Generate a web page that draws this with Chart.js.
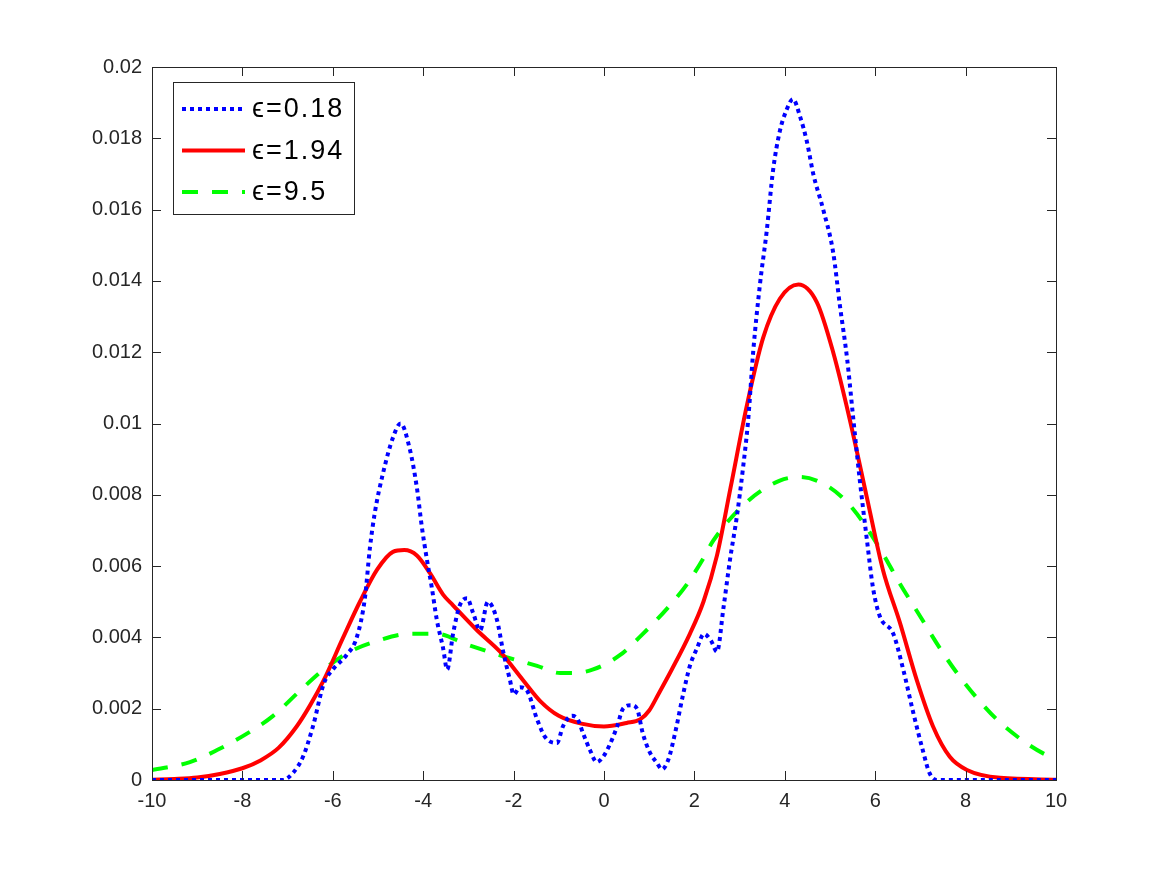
<!DOCTYPE html>
<html>
<head>
<meta charset="utf-8">
<script src="https://cdn.jsdelivr.net/npm/chart.js@4"></script>
<style>
  html, body { margin: 0; padding: 0; background: #fff; }
  #wrap { width: 1167px; height: 875px; }
</style>
</head>
<body>
<div id="wrap"><canvas id="myChart" width="1167" height="875"></canvas></div>
<script>
// values
const blueX = [-10, -9, -8, -7.1, -6.88, -6.66, -6.44, -6.2, -6.0, -5.7, -5.47, -5.29, -5.18, -5.07, -4.89, -4.67, -4.5, -4.3, -4.14, -4.03, -3.92, -3.81, -3.7, -3.56, -3.47, -3.34, -3.19, -3.03, -2.9, -2.74, -2.57, -2.37, -2.23, -2.08, -2.0, -1.86, -1.7, -1.48, -1.3, -1.04, -0.91, -0.71, -0.58, -0.46, -0.31, -0.16, -0.02, 0.13, 0.29, 0.42, 0.6, 0.73, 0.86, 1.02, 1.17, 1.28, 1.42, 1.57, 1.75, 1.9, 2.06, 2.21, 2.37, 2.5, 2.64, 2.79, 2.94, 3.08, 3.19, 3.3, 3.45, 3.6, 3.74, 3.89, 4.04, 4.18, 4.34, 4.49, 4.63, 4.85, 5.07, 5.22, 5.38, 5.51, 5.66, 5.82, 5.95, 6.1, 6.4, 6.62, 6.84, 7.06, 7.2, 7.36, 8, 9, 10];
const blueY = [0, 0, 0, 0, 0.0002, 0.00065, 0.0015, 0.0027, 0.0031, 0.0035, 0.0040, 0.0051, 0.0065, 0.0075, 0.0086, 0.0096, 0.0100, 0.0093, 0.0082, 0.0071, 0.0062, 0.0054, 0.0045, 0.0037, 0.0031, 0.0041, 0.0049, 0.0051, 0.0047, 0.0042, 0.0050, 0.0045, 0.0036, 0.0028, 0.0024, 0.0026, 0.0025, 0.0017, 0.0012, 0.00104, 0.0015, 0.0018, 0.0017, 0.0013, 0.00084, 0.0005, 0.00065, 0.0010, 0.0015, 0.0020, 0.0021, 0.0020, 0.0013, 0.00076, 0.00048, 0.0003, 0.00056, 0.0013, 0.0024, 0.0032, 0.0037, 0.0041, 0.0039, 0.0036, 0.0048, 0.0062, 0.0074, 0.0088, 0.0101, 0.0120, 0.0139, 0.0154, 0.0171, 0.0182, 0.0188, 0.0191, 0.0186, 0.0179, 0.0170, 0.0160, 0.0148, 0.0133, 0.0118, 0.0102, 0.0084, 0.0067, 0.0054, 0.0046, 0.0041, 0.0031, 0.0019, 0.0008, 0.0002, 0, 0, 0, 0];

const redX = [-10, -9.5, -9, -8.5, -8, -7.6, -7.2, -6.8, -6.5, -6.2, -5.77, -5.4, -5.02, -4.67, -4.42, -4.14, -3.85, -3.56, -3.34, -2.81, -2.3, -1.79, -1.4, -1.0, -0.5, 0, 0.5, 0.8, 1.0, 1.2, 1.5, 1.9, 2.2, 2.5, 2.8, 3.16, 3.52, 3.89, 4.3, 4.71, 5.07, 5.44, 5.82, 6.17, 6.55, 6.92, 7.28, 7.65, 8.03, 8.76, 10];
const redY = [0.00001, 0.00003, 0.00007, 0.00017, 0.00033, 0.00055, 0.0009, 0.0015, 0.0021, 0.0028, 0.0040, 0.0050, 0.0059, 0.0064, 0.00645, 0.0063, 0.0058, 0.0052, 0.0049, 0.0042, 0.0036, 0.0028, 0.0022, 0.0018, 0.00158, 0.0015, 0.0016, 0.0017, 0.00195, 0.0024, 0.0031, 0.0041, 0.0050, 0.0063, 0.0082, 0.0105, 0.0124, 0.0135, 0.0139, 0.0134, 0.0120, 0.0101, 0.0079, 0.0059, 0.0044, 0.0028, 0.0015, 0.00065, 0.00028, 0.00006, 0.00001];

const greenX = [-10, -9.16, -8.56, -7.9, -7.32, -6.73, -6.2, -5.62, -5.02, -4.29, -3.7, -3.03, -2.3, -1.48, -0.97, -0.69, -0.24, 0.35, 0.86, 1.39, 1.84, 2.19, 2.41, 3.16, 3.89, 4.34, 5.0, 5.51, 6.1, 6.55, 6.99, 7.43, 7.81, 8.25, 8.69, 9.27, 9.87, 10];
const greenY = [0.00028, 0.0005, 0.00084, 0.0013, 0.0018, 0.0025, 0.0031, 0.0036, 0.0039, 0.0041, 0.0041, 0.0038, 0.0035, 0.0032, 0.0030, 0.0030, 0.0031, 0.0035, 0.0041, 0.0048, 0.0055, 0.0062, 0.0067, 0.0078, 0.0084, 0.0085, 0.0082, 0.0076, 0.0065, 0.0055, 0.0046, 0.0037, 0.0030, 0.0023, 0.0017, 0.0011, 0.00065, 0.0006];

const seriesLabels = ['\u03f5=0.18', '\u03f5=1.94', '\u03f5=9.5'];

const xTicks = [-10, -8, -6, -4, -2, 0, 2, 4, 6, 8, 10];
const yTicks = ['0', '0.002', '0.004', '0.006', '0.008', '0.01', '0.012', '0.014', '0.016', '0.018', '0.02'];

const toPts = (xs, ys) => xs.map((x, i) => ({ x: x, y: ys[i] }));

const axisColor = '#262626';
const fontFam = '"Liberation Sans", Arial, Helvetica, sans-serif';

// box round the plot area plus inward tick marks on all four sides
const framePlugin = {
    id: 'frame',
    afterDatasetsDraw(chart) {
        const { ctx, chartArea: a, scales } = chart;
        ctx.save();
        ctx.strokeStyle = axisColor;
        ctx.lineWidth = 1;
        ctx.strokeRect(Math.round(a.left) + 0.5, Math.round(a.top) + 0.5,
            Math.round(a.right - a.left), Math.round(a.bottom - a.top));
        const len = 9;
        ctx.beginPath();
        scales.x.ticks.forEach(t => {
            const px = Math.round(scales.x.getPixelForValue(t.value)) + 0.5;
            ctx.moveTo(px, a.bottom); ctx.lineTo(px, a.bottom - len);
            ctx.moveTo(px, a.top); ctx.lineTo(px, a.top + len);
        });
        scales.y.ticks.forEach(t => {
            const py = Math.round(scales.y.getPixelForValue(t.value)) + 0.5;
            ctx.moveTo(a.left, py); ctx.lineTo(a.left + len, py);
            ctx.moveTo(a.right, py); ctx.lineTo(a.right - len, py);
        });
        ctx.stroke();

        // legend box in the upper left corner
        const bx = 173.5, by = 82.5, bw = 181, bh = 132;
        ctx.fillStyle = '#fff';
        ctx.fillRect(bx, by, bw, bh);
        ctx.strokeStyle = axisColor;
        ctx.strokeRect(bx, by, bw, bh);
        ctx.font = '27px ' + fontFam;
        ctx.letterSpacing = '2px';
        ctx.textBaseline = 'middle';
        chart.data.datasets.forEach((ds, i) => {
            const yy = 109 + i * 41.5;
            ctx.save();
            ctx.strokeStyle = ds.borderColor;
            ctx.lineWidth = ds.borderWidth;
            ctx.setLineDash(ds.borderDash || []);
            ctx.beginPath();
            ctx.moveTo(182, yy);
            ctx.lineTo(245, yy);
            ctx.stroke();
            ctx.restore();
            ctx.fillStyle = '#000';
            ctx.fillText(ds.label, 252, yy + 1);
        });
        ctx.restore();
    }
};

const ctx = document.getElementById('myChart').getContext('2d');
new Chart(ctx, {
    type: 'line',
    data: {
        datasets: [{
            label: seriesLabels[0],
            data: toPts(blueX, blueY),
            borderColor: '#0000ff',
            borderWidth: 4,
            borderDash: [4, 4],
            cubicInterpolationMode: 'monotone',
            pointRadius: 0
        }, {
            label: seriesLabels[1],
            data: toPts(redX, redY),
            borderColor: '#ff0000',
            borderWidth: 4,
            cubicInterpolationMode: 'monotone',
            pointRadius: 0
        }, {
            label: seriesLabels[2],
            data: toPts(greenX, greenY),
            borderColor: '#00ff00',
            borderWidth: 4,
            borderDash: [16, 14],
            cubicInterpolationMode: 'monotone',
            pointRadius: 0
        }]
    },
    options: {
        responsive: false,
        animation: false,
        layout: { padding: { top: 67, right: 111, left: 0, bottom: 0 } },
        scales: {
            x: {
                type: 'linear',
                min: -10,
                max: 10,
                afterFit: s => { s.height = 95; },
                afterBuildTicks: s => { s.ticks = xTicks.map(v => ({ value: v })); },
                grid: { display: false, drawTicks: false },
                border: { display: false },
                ticks: {
                    autoSkip: false,
                    maxRotation: 0,
                    padding: 9,
                    color: axisColor,
                    font: { size: 20, family: fontFam },
                    callback: v => String(v)
                }
            },
            y: {
                type: 'linear',
                min: 0,
                max: 0.02,
                afterFit: s => { s.width = 152; },
                afterBuildTicks: s => { s.ticks = yTicks.map(v => ({ value: parseFloat(v) })); },
                grid: { display: false, drawTicks: false },
                border: { display: false },
                ticks: {
                    autoSkip: false,
                    padding: 10,
                    color: axisColor,
                    font: { size: 20, family: fontFam },
                    callback: (v, i) => yTicks[i]
                }
            }
        },
        plugins: {
            legend: { display: false },
            tooltip: { enabled: false }
        }
    },
    plugins: [framePlugin]
});
</script>
</body>
</html>
